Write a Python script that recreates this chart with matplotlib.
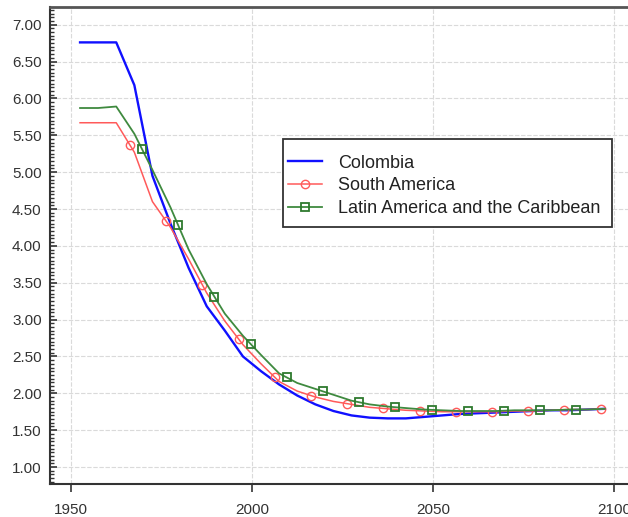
import numpy as np
import matplotlib
matplotlib.use("Agg")
import matplotlib.pyplot as plt
from matplotlib.patches import Rectangle
from matplotlib.ticker import MultipleLocator, FormatStrFormatter

plt.rcParams['font.family'] = ['Liberation Sans', 'DejaVu Sans']

# period midpoints (5-year periods 1950-55 ... 2095-2100)
years = np.arange(1952.5, 2100, 5.0)

colombia = [6.76, 6.76, 6.76, 6.18, 4.95, 4.30, 3.70, 3.18, 2.85, 2.50,
            2.30, 2.12, 1.97, 1.85, 1.76, 1.70, 1.67, 1.66, 1.66, 1.68,
            1.70, 1.72, 1.73, 1.74, 1.75, 1.76, 1.77, 1.77, 1.78, 1.79]
south_america = [5.67, 5.67, 5.67, 5.27, 4.60, 4.25, 3.82, 3.36, 2.98, 2.66,
                 2.40, 2.16, 2.03, 1.95, 1.89, 1.85, 1.81, 1.79, 1.77, 1.76,
                 1.75, 1.75, 1.75, 1.75, 1.76, 1.76, 1.77, 1.78, 1.78, 1.79]
latin_america = [5.87, 5.87, 5.89, 5.52, 5.03, 4.52, 3.95, 3.48, 3.08, 2.78,
                 2.52, 2.27, 2.14, 2.06, 1.98, 1.90, 1.85, 1.82, 1.80, 1.78,
                 1.77, 1.76, 1.76, 1.76, 1.77, 1.77, 1.77, 1.78, 1.78, 1.79]

# where the symbols sit along the lines
sa_mark_years = np.arange(1966.3, 2100, 10.0)
lac_mark_years = np.arange(1969.6, 2095, 10.0)


def with_marks(x, y, mx):
    # put the marker points into the polyline so markevery can pick them
    x = np.asarray(x)
    y = np.asarray(y)
    my = np.interp(mx, x, y)
    xx = np.concatenate([x, mx])
    yy = np.concatenate([y, my])
    order = np.argsort(xx, kind="stable")
    idx = [int(np.where(order == len(x) + i)[0][0]) for i in range(len(mx))]
    return xx[order], yy[order], idx


fig = plt.figure(figsize=(6.28, 5.17), dpi=100)
ax = fig.add_axes([50 / 628, 33 / 517, 600 / 628, 477 / 517])

ax.plot(years, colombia, color="#1010ff", lw=1.7, label="Colombia", zorder=3)

xs, ys, idx = with_marks(years, south_america, sa_mark_years)
ax.plot(xs, ys, color="#ff5a5a", lw=1.1, marker="o", ms=6,
        mfc="none", mec="#ff5a5a", mew=1.0, markevery=idx,
        label="South America", zorder=4)

xs, ys, idx = with_marks(years, latin_america, lac_mark_years)
ax.plot(xs, ys, color="#3f8a3f", lw=1.3, marker="s", ms=5.2,
        mfc="none", mec="#2e7a2e", mew=1.3, markevery=idx,
        label="Latin America and the Caribbean", zorder=4)

ax.set_xlim(1944.2, 1944.2 + 600 / 3.62)
ax.set_ylim(0.77, 7.24)

ax.xaxis.set_major_locator(MultipleLocator(50))
ax.yaxis.set_major_locator(MultipleLocator(0.5))
ax.yaxis.set_minor_locator(MultipleLocator(0.05))
ax.yaxis.set_major_formatter(FormatStrFormatter("%.2f"))

ax.tick_params(axis="y", which="major", direction="in", length=5, width=1.2,
               pad=6, labelsize=11, colors="#333333")
ax.tick_params(axis="y", which="minor", direction="in", length=3, width=1.0,
               colors="#333333")
ax.tick_params(axis="x", which="major", direction="out", length=6, width=1.2,
               pad=8, labelsize=11, colors="#333333")

ax.grid(True, which="major", color="#dadada", lw=0.8, ls=(0, (4, 1.5)))

for side in ("left", "bottom"):
    ax.spines[side].set_linewidth(1.5)
    ax.spines[side].set_color("#333333")
ax.spines["top"].set_linewidth(2.0)
ax.spines["top"].set_color("#555555")
ax.spines["right"].set_visible(False)

# legend frame drawn separately: tall padding above/below, tight at the sides
frame = Rectangle((283 / 628, 1 - 227 / 517), 329 / 628, 88 / 517,
                  transform=fig.transFigure, facecolor="white",
                  edgecolor="#333333", lw=1.3, zorder=5, clip_on=False)
ax.add_patch(frame)
leg = ax.legend(loc="center left", bbox_to_anchor=(288 / 628, 1 - 186 / 517),
                bbox_transform=fig.transFigure, fontsize=13, frameon=False,
                handlelength=1.9, handletextpad=0.85, borderpad=0,
                labelspacing=0.32, borderaxespad=0)
for t in leg.get_texts():
    t.set_color("#222222")
leg.set_zorder(6)

fig.savefig("out.png", dpi=100)
